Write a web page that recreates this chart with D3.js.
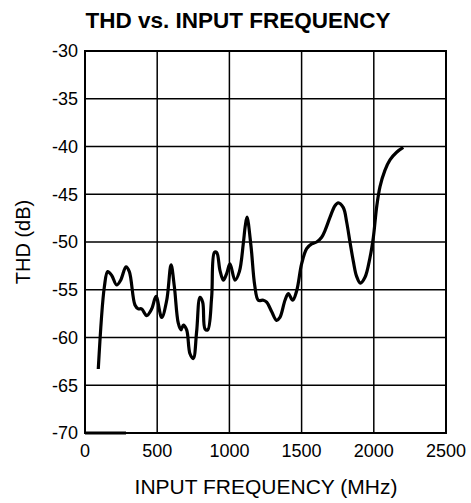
<!DOCTYPE html>
<html>
<head>
<meta charset="utf-8">
<script src="https://cdn.jsdelivr.net/npm/d3@7/dist/d3.min.js"></script>
<style>
  html, body { margin: 0; padding: 0; background: #fff; }
  svg { display: block; }
  text { font-family: "Liberation Sans", Arial, Helvetica, sans-serif; fill: #000; }
</style>
</head>
<body>
<svg id="chart" width="471" height="503"></svg>
<script>
// ---- Data ----
const freqMHz = [92,134,157,185,219,247,284,307,346,369,392,427,462,492,531,566,596,619,646,665,681,704,727,750,773,796,815,831,850,877,896,912,935,958,981,1004,1039,1069,1096,1110,1122,1150,1175,1200,1235,1258,1293,1327,1350,1385,1408,1438,1466,1500,1535,1570,1604,1639,1662,1697,1731,1754,1789,1812,1835,1858,1881,1907,1939,1974,1997,2020,2043,2077,2112,2158,2204];
const thdDb   = [-63.3,-54.7,-53.1,-53.5,-54.5,-54.0,-52.6,-53.1,-56.6,-57.0,-57.0,-57.7,-57.0,-55.7,-57.9,-56.1,-52.4,-54.7,-58.5,-59.2,-58.7,-59.2,-61.7,-62.2,-59.4,-55.8,-56.3,-59.1,-59.2,-55.8,-51.1,-51.1,-53.0,-54.0,-53.3,-52.3,-54.0,-53.1,-50.2,-48.3,-47.4,-50.5,-54.5,-56.1,-56.1,-56.3,-57.3,-58.2,-57.9,-56.1,-55.4,-56.1,-55.1,-52.3,-50.7,-50.2,-50.0,-49.5,-48.8,-47.4,-46.2,-45.9,-46.4,-47.9,-50.0,-52.0,-53.6,-54.3,-53.7,-51.6,-49.5,-46.3,-44.2,-42.5,-41.4,-40.6,-40.1];
const baseMarkFreq = [0, 284];
const baseMarkThd  = [-70, -70];
const xTicks = [0, 500, 1000, 1500, 2000, 2500];
const yTicks = [-30, -35, -40, -45, -50, -55, -60, -65, -70];
const title = "THD vs. INPUT FREQUENCY";
const xLabel = "INPUT FREQUENCY (MHz)";
const yLabel = "THD (dB)";

// ---- Layout ----
const svg = d3.select("#chart");
const mLeft = 85, mRight = 446, mTop = 51, mBottom = 433;
const x = d3.scaleLinear().domain([0, 2500]).range([mLeft, mRight]);
const y = d3.scaleLinear().domain([-70, -30]).range([mBottom, mTop]);

// grid
const g = svg.append("g");
g.selectAll("line.vg").data(xTicks.slice(1, -1)).enter().append("line")
  .attr("x1", d => x(d)).attr("x2", d => x(d))
  .attr("y1", mTop).attr("y2", mBottom)
  .attr("stroke", "#000").attr("stroke-width", 1.5);
g.selectAll("line.hg").data(yTicks.filter(d => d !== -30 && d !== -70)).enter().append("line")
  .attr("x1", mLeft).attr("x2", mRight)
  .attr("y1", d => y(d)).attr("y2", d => y(d))
  .attr("stroke", "#000").attr("stroke-width", 1.5);

// frame
g.append("rect").attr("x", mLeft).attr("y", mTop)
  .attr("width", mRight - mLeft).attr("height", mBottom - mTop)
  .attr("fill", "none").attr("stroke", "#000").attr("stroke-width", 2);

// tick labels
svg.selectAll("text.yt").data(yTicks).enter().append("text")
  .attr("x", mLeft - 7).attr("y", d => y(d)).attr("dy", "0.35em")
  .attr("text-anchor", "end").style("font-size", "18px")
  .text(d => d);
svg.selectAll("text.xt").data(xTicks).enter().append("text")
  .attr("x", d => x(d)).attr("y", 457)
  .attr("text-anchor", "middle").style("font-size", "18px")
  .text(d => d);

// titles
svg.append("text").attr("x", 238).attr("y", 28)
  .attr("text-anchor", "middle").style("font-size", "22.5px").style("font-weight", "bold")
  .text(title);
svg.append("text").attr("x", 266).attr("y", 494)
  .attr("text-anchor", "middle").style("font-size", "21px")
  .text(xLabel);
svg.append("text").attr("transform", "translate(30,242) rotate(-90)")
  .attr("text-anchor", "middle").style("font-size", "20px")
  .text(yLabel);

// data line
const pts = freqMHz.map((f, i) => [f, thdDb[i]]);
const line = d3.line().x(d => x(d[0])).y(d => y(d[1])).curve(d3.curveCatmullRom.alpha(0.5));
svg.append("path").datum(pts)
  .attr("d", line).attr("fill", "none").attr("stroke", "#000")
  .attr("stroke-width", 3.2).attr("stroke-linejoin", "round");

const base = baseMarkFreq.map((f, i) => [f, baseMarkThd[i]]);
svg.append("path").datum(base)
  .attr("d", d3.line().x(d => x(d[0])).y(d => y(d[1])))
  .attr("fill", "none").attr("stroke", "#000").attr("stroke-width", 3);
</script>
</body>
</html>
